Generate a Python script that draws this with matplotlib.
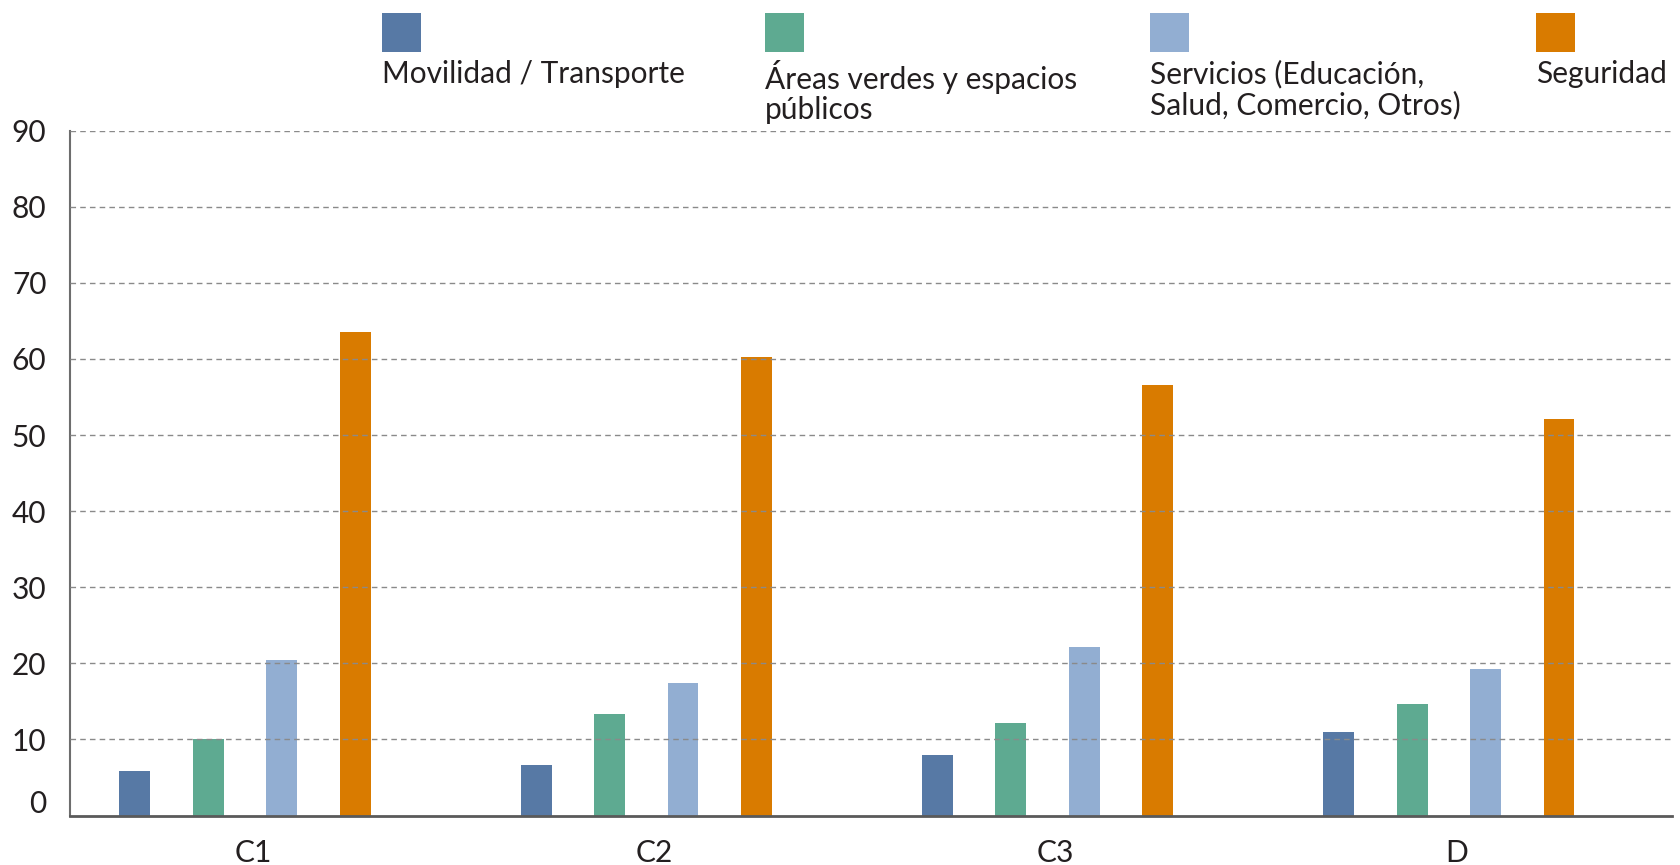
import matplotlib.pyplot as plt
import matplotlib.transforms as mtransforms
from matplotlib.patches import Rectangle
import numpy as np

plt.rcParams['font.family'] = ['Lato', 'DejaVu Sans']

# Porcentaje de menciones por grupo socioeconómico
grupos = ['C1', 'C2', 'C3', 'D']
series = ['Movilidad / Transporte',
          'Áreas verdes y espacios\npúblicos',
          'Servicios (Educación,\nSalud, Comercio, Otros)',
          'Seguridad']
movilidad = [5.8, 6.6, 8.0, 11.0]
areas_verdes = [10.0, 13.3, 12.2, 14.6]
servicios = [20.5, 17.4, 22.2, 19.2]
seguridad = [63.5, 60.2, 56.6, 52.1]
colores = ['#5779a5', '#5eaa91', '#92aed2', '#d97b00']

W, H = 1680, 865
fig = plt.figure(figsize=(W / 100, H / 100), dpi=100)

def px(x, y):
    # pixel (desde arriba a la izquierda) -> fracción de figura
    return x / W, 1 - y / H

left, right, top, bottom = 70, 1672, 130.7, 815.5
ax = fig.add_axes([left / W, 1 - bottom / H, (right - left) / W, (bottom - top) / H])

x = np.arange(len(grupos))
ancho = 0.077
paso = 0.183
valores = [movilidad, areas_verdes, servicios, seguridad]
for i, (vals, c) in enumerate(zip(valores, colores)):
    ax.bar(x + (i - 1.5) * paso, vals, width=ancho, color=c, zorder=2)

ax.set_ylim(0, 90)
ax.set_xlim(-0.436, 3.556)
ax.set_yticks(range(0, 91, 10))
ax.set_xticks(x + 0.02)
ax.set_xticklabels(grupos)
ax.tick_params(axis='both', length=0, labelsize=21.5, colors='#231f20')
ax.tick_params(axis='y', pad=17)
ax.tick_params(axis='x', pad=17)

# líneas de referencia punteadas
for yv in range(10, 91, 10):
    ax.axhline(yv, color='#8a8a8a', linestyle=(0, (4, 3)), linewidth=1, zorder=3)

for s in ['top', 'right']:
    ax.spines[s].set_visible(False)
ax.spines['left'].set_color('#6d6d6d')
ax.spines['left'].set_linewidth(1.5)
ax.spines['bottom'].set_color('#5a5a5a')
ax.spines['bottom'].set_linewidth(2)
ax.spines['bottom'].set_zorder(4)

# el cero va un poco más arriba del eje
lbl0 = ax.get_yticklabels()[0]
lbl0.set_transform(lbl0.get_transform() + mtransforms.ScaledTranslation(0, 14 / 100, fig.dpi_scale_trans))

# leyenda manual arriba
leyenda_x = [382, 765, 1150, 1536]
for lx, c, nombre in zip(leyenda_x, colores, series):
    fx, fy = px(lx, 52)
    fig.patches.append(Rectangle((fx, fy), 39 / W, 39 / H, transform=fig.transFigure,
                                 facecolor=c, edgecolor='none'))
    tx, ty = px(lx, 60)
    fig.text(tx, ty, nombre, fontsize=21.5, color='#231f20', ha='left', va='top',
             linespacing=1.1)

fig.savefig('out.png', dpi=100)
